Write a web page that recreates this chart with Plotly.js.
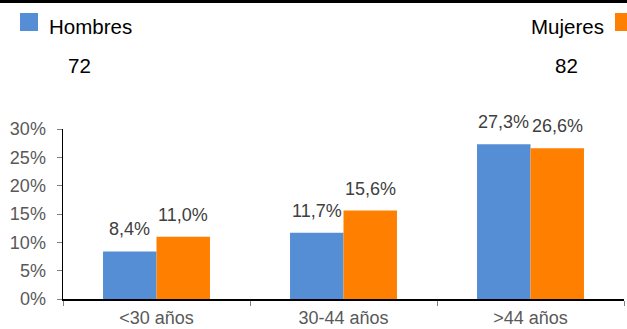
<!DOCTYPE html>
<html>
<head>
<meta charset="utf-8">
<script src="https://cdn.plot.ly/plotly-3.0.1.min.js"></script>
<style>html,body{margin:0;padding:0;background:#fff;}#chart{width:627px;height:329px;}</style>
</head>
<body>
<div id="chart"></div>
<script>
const categories = ['<30 años', '30-44 años', '>44 años'];
const hombres = [8.4, 11.7, 27.3];
const mujeres = [11.0, 15.6, 26.6];
const seriesNames = ['Hombres', 'Mujeres'];
const totals = [72, 82];

const W = 627, H = 329;
const M = {l: 63, r: 3, t: 129, b: 30};
const plotW = W - M.l - M.r, plotH = H - M.t - M.b;
const bargap = 0.428;
const catW = plotW / categories.length;
const barW = catW * (1 - bargap) / 2;
const blue = '#558ED5', orange = '#FF8000';
const FONT = 'Liberation Sans, Arial, sans-serif';

const fmt = v => v.toFixed(1).replace('.', ',') + '%';

const traces = [
  {type: 'bar', name: seriesNames[0], x: categories, y: hombres, marker: {color: blue}, hoverinfo: 'none'},
  {type: 'bar', name: seriesNames[1], x: categories, y: mujeres, marker: {color: orange}, hoverinfo: 'none'}
];

const ann = [];
[hombres, mujeres].forEach((arr, s) => {
  arr.forEach((v, i) => {
    ann.push({x: categories[i], y: v, xref: 'x', yref: 'y', text: fmt(v), showarrow: false,
      xanchor: 'center', yanchor: 'bottom', xshift: (s === 0 ? -1 : 1) * barW / 2, yshift: 10,
      font: {family: FONT, size: 18, color: '#404040'}});
  });
});
// legend-like texts
const py = pix => (H - M.b - pix) / plotH; // pixel y -> paper y
const px = pix => (pix - M.l) / plotW;
ann.push({x: px(47), y: py(27), xref: 'paper', yref: 'paper', text: seriesNames[0], showarrow: false,
  xanchor: 'left', yanchor: 'middle', font: {family: FONT, size: 20.5, color: '#000'}});
ann.push({x: px(606), y: py(27), xref: 'paper', yref: 'paper', text: seriesNames[1], showarrow: false,
  xanchor: 'right', yanchor: 'middle', font: {family: FONT, size: 20.5, color: '#000'}});
ann.push({x: px(79.5), y: py(65), xref: 'paper', yref: 'paper', text: String(totals[0]), showarrow: false,
  xanchor: 'center', yanchor: 'middle', font: {family: FONT, size: 20.5, color: '#000'}});
ann.push({x: px(566), y: py(65), xref: 'paper', yref: 'paper', text: String(totals[1]), showarrow: false,
  xanchor: 'center', yanchor: 'middle', font: {family: FONT, size: 20.5, color: '#000'}});

const shapes = [
  {type: 'rect', xref: 'paper', yref: 'paper', x0: px(0), x1: px(627), y0: py(3), y1: py(0), fillcolor: '#000', line: {width: 0}},
  {type: 'rect', xref: 'paper', yref: 'paper', x0: px(20), x1: px(38), y0: py(31), y1: py(13), fillcolor: blue, line: {width: 0}},
  {type: 'rect', xref: 'paper', yref: 'paper', x0: px(615), x1: px(633), y0: py(31), y1: py(13), fillcolor: orange, line: {width: 0}}
];

const layout = {
  width: W, height: H,
  margin: M,
  paper_bgcolor: '#fff', plot_bgcolor: '#fff',
  barmode: 'group', bargap: bargap, bargroupgap: 0,
  showlegend: false,
  font: {family: FONT, size: 18, color: '#595959'},
  xaxis: {type: 'category', showline: true, linecolor: '#000', linewidth: 1.5, ticks: 'outside', tickson: 'boundaries',
    ticklen: 5, tickcolor: '#808080', showgrid: false, zeroline: false, ticklabelstandoff: 2,
    tickfont: {family: FONT, size: 18, color: '#595959'}},
  yaxis: {range: [0, 30], dtick: 5, ticksuffix: '%', showline: true, linecolor: '#000', linewidth: 1.5, ticks: 'outside',
    ticklen: 5, tickcolor: '#808080', showgrid: false, zeroline: false, ticklabelstandoff: 7,
    tickfont: {family: FONT, size: 18, color: '#595959'}},
  annotations: ann,
  shapes: shapes
};

Plotly.newPlot('chart', traces, layout, {staticPlot: true, displayModeBar: false});
</script>
</body>
</html>
